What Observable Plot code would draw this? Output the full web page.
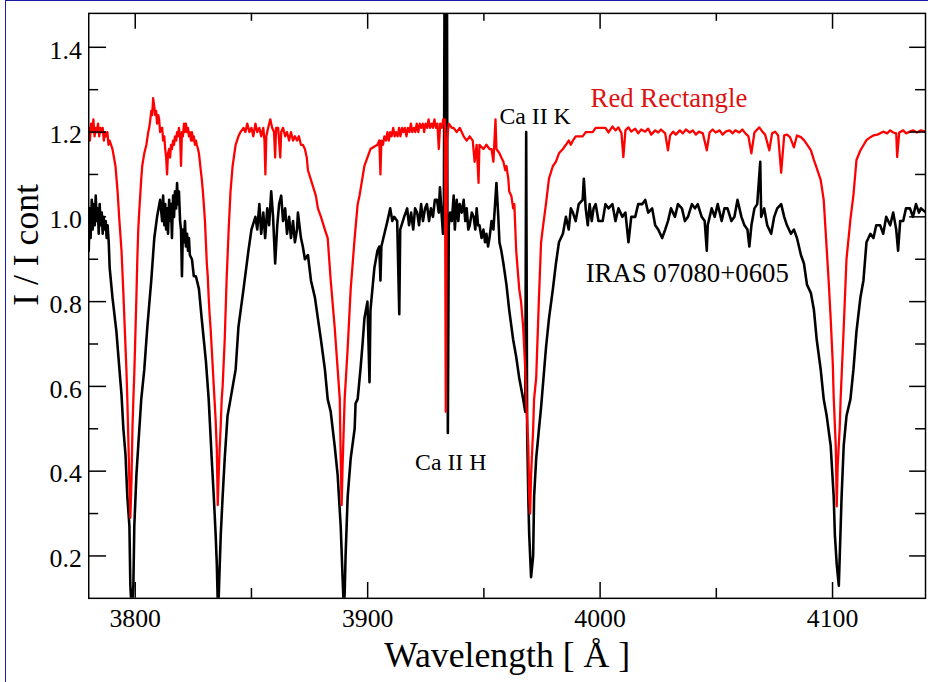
<!DOCTYPE html>
<html><head><meta charset="utf-8">
<script src="https://cdn.jsdelivr.net/npm/d3@7"></script>
<script src="https://cdn.jsdelivr.net/npm/@observablehq/plot@0.6"></script>
<style>
html,body{margin:0;padding:0;background:#fff;overflow:hidden;}
#wrap{position:relative;width:928px;height:682px;overflow:hidden;background:#fff;}
#border{position:absolute;left:5px;top:0;right:-10px;bottom:-10px;border-left:1.5px solid #1a1aa8;border-top:1.5px solid #1a1aa8;pointer-events:none;}
svg text{font-family:'Liberation Serif','Times New Roman',Times,serif;}
</style></head><body><div id="wrap"><div id="chart"></div><div id="border"></div></div>
<script>
// Wavelength [Å], I / I cont  — Red Rectangle (red curve)
const redRectangle = [
[3780.0,1.21],[3780.5,1.18],[3781.0,1.22],[3781.5,1.20],[3782.0,1.23],[3782.5,1.19],[3783.0,1.21],[3783.5,1.20],[3784.0,1.22],[3784.5,1.19],[3785.0,1.21],[3785.5,1.20],[3786.0,1.21],[3786.5,1.18],[3787.0,1.20],[3787.5,1.19],[3788.0,1.20],[3788.5,1.17],[3789.0,1.18],[3789.6,1.17],[3790.2,1.16],[3791.5,1.12],[3792.4,1.06],[3793.2,0.99],[3794.1,0.92],[3794.9,0.82],[3795.4,0.75],[3796.2,0.64],[3796.6,0.57],[3797.1,0.46],[3797.5,0.37],[3797.9,0.29],[3798.4,0.38],[3798.8,0.50],[3799.2,0.57],[3799.6,0.63],[3800.1,0.73],[3800.5,0.81],[3800.9,0.90],[3801.3,0.97],[3801.8,1.02],[3802.6,1.09],[3803.0,1.12],[3803.9,1.15],[3804.8,1.17],[3805.6,1.20],[3806.0,1.21],[3806.5,1.23],[3806.9,1.25],[3807.3,1.24],[3807.7,1.28],[3808.2,1.26],[3808.6,1.24],[3809.0,1.25],[3809.4,1.22],[3809.9,1.24],[3810.3,1.23],[3810.7,1.20],[3811.2,1.21],[3811.6,1.21],[3812.0,1.18],[3812.5,1.19],[3812.9,1.16],[3813.3,1.14],[3813.7,1.10],[3814.1,1.15],[3814.6,1.16],[3815.0,1.14],[3815.4,1.17],[3815.8,1.16],[3816.3,1.18],[3816.7,1.17],[3817.1,1.19],[3817.6,1.18],[3818.0,1.20],[3818.4,1.19],[3818.8,1.21],[3819.3,1.19],[3819.7,1.12],[3820.1,1.20],[3820.5,1.19],[3821.0,1.22],[3821.4,1.20],[3821.8,1.22],[3822.3,1.20],[3822.7,1.21],[3823.1,1.19],[3823.5,1.20],[3824.0,1.18],[3824.4,1.20],[3824.8,1.18],[3825.2,1.19],[3825.7,1.17],[3826.1,1.18],[3826.5,1.17],[3827.0,1.16],[3827.4,1.15],[3827.8,1.13],[3828.2,1.11],[3828.6,1.09],[3829.1,1.06],[3829.5,1.03],[3830.0,0.99],[3830.4,0.94],[3830.8,0.89],[3831.2,0.86],[3831.6,0.81],[3832.0,0.77],[3832.5,0.73],[3832.9,0.69],[3833.3,0.65],[3833.8,0.60],[3834.2,0.56],[3834.6,0.52],[3835.1,0.45],[3835.5,0.32],[3835.9,0.39],[3836.3,0.45],[3836.8,0.51],[3837.2,0.57],[3837.6,0.60],[3838.5,0.71],[3839.3,0.85],[3840.2,0.97],[3841.0,1.06],[3841.9,1.12],[3843.2,1.17],[3844.4,1.19],[3845.3,1.20],[3846.6,1.21],[3847.4,1.20],[3848.2,1.22],[3849.1,1.20],[3850.0,1.21],[3850.8,1.19],[3851.7,1.22],[3852.5,1.20],[3853.4,1.21],[3854.2,1.19],[3855.1,1.21],[3855.6,1.18],[3856.0,1.10],[3856.4,1.19],[3857.2,1.21],[3858.1,1.23],[3858.9,1.21],[3859.7,1.20],[3860.2,1.14],[3860.6,1.21],[3861.5,1.21],[3862.4,1.14],[3862.8,1.20],[3863.6,1.21],[3864.5,1.19],[3865.3,1.20],[3866.2,1.18],[3867.0,1.20],[3867.9,1.18],[3868.7,1.19],[3869.6,1.18],[3870.4,1.19],[3871.3,1.17],[3872.1,1.17],[3873.0,1.16],[3873.8,1.14],[3874.3,1.11],[3876.0,1.08],[3877.7,1.05],[3878.6,1.02],[3879.9,1.00],[3881.6,0.97],[3882.8,0.95],[3884.1,0.85],[3885.8,0.74],[3887.1,0.64],[3888.0,0.57],[3888.4,0.43],[3888.8,0.32],[3889.2,0.41],[3889.7,0.50],[3890.1,0.57],[3891.4,0.69],[3892.7,0.83],[3894.4,0.95],[3895.7,1.03],[3896.5,1.05],[3898.6,1.12],[3901.2,1.16],[3904.2,1.17],[3905.0,1.18],[3905.5,1.10],[3905.9,1.18],[3906.6,1.17],[3907.2,1.19],[3907.9,1.18],[3908.5,1.20],[3909.1,1.18],[3909.7,1.20],[3910.3,1.19],[3911.0,1.21],[3911.6,1.19],[3912.2,1.20],[3912.9,1.19],[3913.5,1.21],[3914.1,1.19],[3914.8,1.21],[3915.4,1.20],[3916.0,1.21],[3916.7,1.19],[3917.3,1.21],[3918.0,1.20],[3918.6,1.22],[3919.2,1.20],[3919.9,1.21],[3920.5,1.20],[3921.1,1.22],[3921.8,1.20],[3922.4,1.22],[3923.0,1.21],[3923.7,1.22],[3924.3,1.20],[3924.9,1.22],[3925.6,1.21],[3926.2,1.23],[3926.8,1.21],[3927.5,1.22],[3928.1,1.21],[3928.7,1.23],[3929.4,1.21],[3930.0,1.22],[3930.6,1.16],[3931.2,1.22],[3931.9,1.21],[3932.5,1.23],[3933.2,1.23],[3933.6,0.54],[3934.1,1.18],[3934.9,1.22],[3936.2,1.21],[3937.0,1.21],[3938.3,1.20],[3939.6,1.21],[3941.3,1.19],[3942.6,1.18],[3943.9,1.19],[3945.2,1.18],[3946.0,1.13],[3946.9,1.17],[3947.7,1.08],[3948.1,1.17],[3949.8,1.16],[3951.1,1.17],[3952.4,1.16],[3953.3,1.16],[3954.1,1.13],[3955.0,1.23],[3955.4,1.16],[3956.7,1.15],[3957.5,1.14],[3958.4,1.13],[3959.2,1.11],[3959.7,1.12],[3960.5,1.09],[3960.9,1.06],[3961.8,1.05],[3962.6,1.02],[3963.1,1.03],[3963.9,0.92],[3965.2,0.83],[3966.0,0.80],[3966.9,0.74],[3967.8,0.64],[3968.2,0.57],[3969.1,0.46],[3969.5,0.34],[3969.9,0.30],[3970.3,0.39],[3971.2,0.50],[3971.6,0.57],[3972.5,0.62],[3973.7,0.81],[3974.6,0.94],[3975.5,0.98],[3976.7,1.03],[3978.0,1.09],[3979.7,1.12],[3981.0,1.13],[3982.3,1.15],[3984.0,1.16],[3985.3,1.17],[3986.5,1.18],[3987.4,1.17],[3988.3,1.18],[3989.5,1.19],[3990.8,1.19],[3992.5,1.19],[3993.8,1.20],[3995.1,1.20],[3996.8,1.20],[3998.1,1.21],[4000.2,1.21],[4002.3,1.21],
[4003.6,1.199],[4005.3,1.213],[4006.6,1.204],[4007.9,1.211],[4009.2,1.197],[4010.0,1.141],[4010.9,1.204],[4012.2,1.211],[4013.4,1.201],[4015.1,1.208],[4016.4,1.197],[4017.7,1.206],[4019.4,1.201],[4020.7,1.208],[4022.0,1.194],[4023.7,1.204],[4025.0,1.199],[4026.2,1.206],[4028.0,1.197],[4029.2,1.157],[4030.1,1.192],[4031.4,1.201],[4032.6,1.194],[4034.3,1.204],[4035.6,1.197],[4036.9,1.206],[4038.6,1.199],[4039.9,1.204],[4041.2,1.194],[4042.5,1.201],[4044.2,1.197],[4045.9,1.157],[4047.1,1.199],[4048.4,1.206],[4049.7,1.199],[4051.4,1.204],[4052.7,1.194],[4054.0,1.201],[4055.7,1.204],[4057.0,1.197],[4058.2,1.204],[4059.9,1.199],[4061.2,1.206],[4062.5,1.197],[4063.8,1.190],[4065.1,1.150],[4066.4,1.199],[4067.6,1.206],[4068.5,1.211],[4069.8,1.201],[4071.0,1.194],[4072.8,1.157],[4074.0,1.197],[4075.3,1.201],[4076.6,1.192],[4077.9,1.104],[4079.2,1.192],[4080.4,1.194],[4081.7,1.188],[4083.4,1.164],[4084.7,1.192],[4086.4,1.188],[4087.7,1.181],[4089.0,1.171],[4090.7,1.157],[4092.0,1.134],[4093.2,1.115],[4094.9,1.087],[4096.2,1.040],[4097.5,0.924],[4098.4,0.842],[4099.2,0.760],[4100.1,0.655],[4100.5,0.574],[4101.4,0.457],[4101.8,0.317],[4102.2,0.410],[4103.1,0.504],[4103.5,0.574],[4104.8,0.737],[4106.0,0.900],[4107.7,0.994],[4109.0,1.052],[4110.3,1.134],[4112.0,1.157],[4113.3,1.169],[4114.6,1.181],[4116.3,1.188],[4117.6,1.192],[4119.3,1.194],[4120.5,1.197],[4121.8,1.201],[4123.5,1.197],[4124.8,1.204],[4126.1,1.199],[4127.4,1.197],[4127.8,1.141],[4128.7,1.199],[4130.4,1.204],[4131.6,1.197],[4133.3,1.201],[4134.6,1.204],[4136.3,1.199],[4138.0,1.204],[4140.2,1.201]
];
// Wavelength [Å], I / I cont  — IRAS 07080+0605 (black curve)
const iras07080 = [
[3780.0,0.92],[3780.4,1.02],[3780.8,0.95],[3781.3,1.04],[3781.7,0.97],[3782.1,1.03],[3782.6,0.98],[3783.0,1.05],[3783.4,0.99],[3783.9,1.02],[3784.3,0.96],[3784.7,1.03],[3785.1,0.98],[3785.6,1.01],[3786.0,0.96],[3786.4,1.00],[3786.8,0.97],[3787.3,0.99],[3787.7,0.95],[3788.1,0.98],[3788.6,0.94],[3789.0,0.88],[3790.2,0.81],[3791.9,0.73],[3793.2,0.64],[3794.1,0.58],[3794.9,0.50],[3795.8,0.44],[3796.2,0.39],[3796.6,0.34],[3797.5,0.27],[3797.9,0.13],[3798.4,0.08],[3798.8,0.09],[3799.2,0.13],[3799.6,0.27],[3800.5,0.39],[3801.3,0.46],[3802.6,0.57],[3803.9,0.64],[3805.2,0.74],[3806.9,0.85],[3808.2,0.95],[3809.4,1.00],[3810.7,1.04],[3811.6,0.99],[3812.0,1.05],[3812.5,0.98],[3812.9,1.03],[3813.3,0.97],[3813.7,1.02],[3814.1,0.96],[3814.6,1.04],[3815.0,0.99],[3815.4,1.03],[3815.8,0.95],[3816.3,1.05],[3816.7,1.00],[3817.1,1.06],[3817.6,1.02],[3818.0,1.08],[3818.4,1.03],[3818.8,1.06],[3819.3,0.99],[3819.7,0.97],[3820.1,0.86],[3820.5,0.97],[3821.0,0.94],[3821.4,0.99],[3821.8,0.93],[3822.3,0.96],[3822.7,0.92],[3823.1,0.95],[3823.5,0.91],[3824.4,0.90],[3825.2,0.86],[3826.1,0.86],[3827.4,0.83],[3828.6,0.76],[3830.4,0.66],[3831.6,0.57],[3832.9,0.43],[3833.8,0.34],[3834.6,0.25],[3835.1,0.18],[3835.5,0.09],[3835.9,0.10],[3836.3,0.17],[3836.8,0.25],[3837.6,0.34],[3838.5,0.43],[3839.7,0.53],[3841.0,0.57],[3843.2,0.64],[3844.4,0.74],[3846.6,0.83],[3848.7,0.92],[3850.0,0.97],[3851.7,1.00],[3852.5,0.97],[3853.4,1.03],[3854.2,0.96],[3855.1,1.01],[3855.9,0.95],[3856.8,1.02],[3857.6,0.98],[3858.5,1.06],[3859.3,1.00],[3860.2,0.89],[3861.1,0.98],[3861.9,1.03],[3862.8,1.05],[3863.6,0.99],[3864.5,1.02],[3865.3,0.96],[3866.2,1.00],[3867.0,0.95],[3867.9,0.99],[3868.7,0.94],[3869.6,0.97],[3870.0,1.01],[3871.3,0.95],[3872.1,0.93],[3873.0,0.90],[3874.3,0.91],[3875.6,0.85],[3877.3,0.81],[3878.6,0.76],[3879.9,0.71],[3881.6,0.64],[3882.8,0.57],[3884.1,0.54],[3885.8,0.46],[3887.1,0.39],[3888.4,0.27],[3889.2,0.15],[3889.7,0.08],[3890.1,0.11],[3890.5,0.20],[3891.4,0.34],[3892.7,0.43],[3894.4,0.50],[3894.8,0.56],[3895.7,0.57],[3896.9,0.64],[3897.8,0.70],[3898.6,0.76],[3899.9,0.80],[3900.8,0.61],[3901.2,0.78],[3902.9,0.88],[3904.2,0.92],[3905.0,0.93],[3905.5,0.85],[3905.9,0.93],[3907.2,0.96],[3908.5,0.99],[3909.7,1.02],[3910.6,0.99],[3911.4,1.00],[3912.7,0.99],[3913.6,0.77],[3914.0,0.97],[3915.7,1.00],[3917.0,1.02],[3917.8,0.98],[3918.7,1.01],[3919.6,0.97],[3920.4,1.02],[3921.3,1.01],[3922.1,0.98],[3923.0,1.03],[3923.8,0.99],[3924.7,1.02],[3925.5,1.03],[3926.4,0.99],[3927.2,1.02],[3928.1,1.00],[3928.9,1.04],[3929.8,1.04],[3930.6,1.01],[3931.1,1.07],[3931.9,1.00],[3932.4,0.96],[3932.8,1.03],[3933.1,1.60],[3933.5,0.98],[3933.8,1.60],[3934.1,1.60],[3934.5,0.49],[3934.9,0.98],[3935.5,1.01],[3936.2,0.99],[3937.0,1.05],[3937.5,0.97],[3938.3,1.04],[3939.0,0.99],[3939.6,1.03],[3940.5,1.01],[3941.3,1.04],[3942.0,0.99],[3942.6,1.02],[3943.3,0.97],[3943.9,0.98],[3944.8,1.01],[3945.6,1.00],[3946.3,0.97],[3946.9,1.02],[3947.5,0.98],[3948.1,0.98],[3949.0,0.95],[3949.8,0.97],[3950.5,0.94],[3951.1,0.96],[3951.8,0.93],[3952.4,0.95],[3953.3,0.99],[3954.1,0.97],[3955.4,1.08],[3956.2,1.00],[3956.7,0.94],[3957.5,0.92],[3958.4,0.89],[3959.7,0.84],[3960.9,0.78],[3962.6,0.71],[3963.9,0.67],[3965.2,0.62],[3966.9,0.57],[3967.8,0.54],[3968.2,1.20],[3968.6,0.50],[3969.1,0.34],[3969.5,0.25],[3970.3,0.15],[3971.2,0.20],[3971.6,0.34],[3972.5,0.43],[3973.7,0.50],[3974.6,0.55],[3976.7,0.69],[3978.0,0.76],[3979.7,0.83],[3981.0,0.89],[3982.3,0.94],[3984.0,0.96],[3985.3,1.00],[3986.5,0.97],[3987.4,1.02],[3988.3,1.01],[3989.5,0.99],[3990.8,1.03],[3992.5,1.04],[3993.0,1.09],[3993.8,1.02],[3994.7,0.98],[3995.5,1.03],[3996.4,0.99],[3997.2,1.02],[3998.1,1.03],[3999.3,0.99],[4001.1,0.99],[4002.3,1.03],[4003.6,1.02],[4005.3,1.03],[4006.6,0.99],[4007.9,1.02],[4009.6,1.00],[4010.9,1.01],[4012.2,0.94],[4013.4,1.00],[4015.1,1.00],[4016.4,1.03],[4018.1,1.03],[4019.4,1.04],[4020.7,1.01],[4022.4,1.02],[4023.7,0.98],[4025.0,0.97],[4026.7,0.95],[4028.0,0.97],[4029.2,0.99],[4030.5,1.02],[4032.2,1.00],[4033.5,1.03],[4035.2,1.02],[4036.5,0.99],[4037.8,1.00],[4039.5,1.03],[4040.8,1.02],[4042.0,1.03],[4043.7,1.00],[4045.0,0.99],[4045.9,0.92],[4046.3,0.98],[4048.0,1.02],[4049.3,1.00],[4050.6,1.03],[4052.3,0.99],[4053.5,1.02],[4054.8,1.02],[4056.5,0.99],[4057.8,1.00],[4059.1,1.04],[4060.8,1.00],[4062.1,0.98],[4063.4,0.97],[4064.2,0.93],[4065.1,0.98],[4066.4,1.02],[4067.6,1.03],[4068.9,1.13],[4069.3,1.00],[4070.6,1.02],[4071.9,0.98],[4073.6,0.96],[4074.9,1.00],[4076.2,1.02],[4077.9,1.03],[4079.2,1.00],[4080.4,0.98],[4082.1,0.96],[4083.4,0.97],[4084.7,0.95],[4086.4,0.91],[4087.7,0.89],[4089.0,0.84],[4090.7,0.82],[4092.0,0.78],[4093.2,0.71],[4094.9,0.64],[4096.2,0.57],[4097.5,0.53],[4099.2,0.46],[4100.5,0.34],[4101.0,0.25],[4101.8,0.18],[4102.7,0.13],[4103.5,0.27],[4103.9,0.34],[4104.8,0.46],[4106.0,0.53],[4107.7,0.57],[4109.0,0.64],[4110.3,0.73],[4112.0,0.81],[4113.3,0.85],[4114.6,0.94],[4116.3,0.96],[4117.6,0.95],[4118.8,0.98],[4120.5,0.98],[4121.8,0.96],[4123.1,1.00],[4124.8,0.98],[4126.1,1.01],[4127.4,0.97],[4128.2,0.92],[4129.1,0.99],[4130.4,0.99],[4131.6,1.02],[4133.3,1.02],[4134.6,1.00],[4135.9,1.03],[4137.2,1.01],[4138.0,1.02],[4140.2,1.01]
];

const xMajorTicks = [3800, 3900, 4000, 4100];
const xMinorTicks = [3850, 3950, 4050];
const yMajorTicks = [0.2, 0.4, 0.6, 0.8, 1.0, 1.2, 1.4];
const yMinorTicks = [0.3, 0.5, 0.7, 0.9, 1.1, 1.3];
const xTitle = "Wavelength [ Å ]";
const yTitle = "I / I cont";
const labels = [
  {text: "Red Rectangle", w: 3995.9, v: 1.258, color: "#dd1111", size: 27},
  {text: "IRAS 07080+0605", w: 3993.8, v: 0.847, color: "#000000", size: 27},
  {text: "Ca II K", w: 3956.7, v: 1.220, color: "#000000", size: 24},
  {text: "Ca II H", w: 3920.4, v: 0.403, color: "#000000", size: 24}
];

const W = 936, H = 682;
const mL = 89, mR = 3, mT = 13, mB = 79;
const frameW = W - mL - mR, frameH = H - mT - mB;
const font = "Liberation Serif";
const tickStyle = {stroke: "black", strokeWidth: 1.5};

const chart = Plot.plot({
  width: W, height: H,
  marginLeft: mL, marginRight: mR, marginTop: mT, marginBottom: mB,
  style: {fontFamily: font, background: "white", color: "black", overflow: "visible"},
  x: {domain: [3780, 4140]},
  y: {domain: [0.1, 1.48]},
  marks: [
    Plot.line(iras07080, {x: d => d[0], y: d => d[1], stroke: "#000000", strokeWidth: 2.6, clip: true}),
    Plot.line(redRectangle, {x: d => d[0], y: d => d[1], stroke: "#ff0000", strokeWidth: 2.3, clip: true}),
    Plot.frame({stroke: "black", strokeWidth: 1.5}),
    Plot.tickX(xMajorTicks, {x: d => d, insetTop: frameH - 16, ...tickStyle}),
    Plot.tickX(xMajorTicks, {x: d => d, insetBottom: frameH - 16, ...tickStyle}),
    Plot.tickX(xMinorTicks, {x: d => d, insetTop: frameH - 10, ...tickStyle}),
    Plot.tickX(xMinorTicks, {x: d => d, insetBottom: frameH - 8, ...tickStyle}),
    Plot.tickY(yMajorTicks, {y: d => d, insetRight: frameW - 18, ...tickStyle}),
    Plot.tickY(yMajorTicks, {y: d => d, insetLeft: frameW - 16, ...tickStyle}),
    Plot.tickY(yMinorTicks, {y: d => d, insetRight: frameW - 10, ...tickStyle}),
    Plot.tickY(yMinorTicks, {y: d => d, insetLeft: frameW - 10, ...tickStyle}),
    Plot.axisX(xMajorTicks, {tickSize: 0, tickPadding: 10, fontSize: 26, fontFamily: font, label: null, tickFormat: d => String(d)}),
    Plot.axisY(yMajorTicks, {tickSize: 0, tickPadding: 7, fontSize: 26, fontFamily: font, label: null, tickFormat: d3.format(".1f"), dy: 3}),
    Plot.text([xTitle], {text: d => d, frameAnchor: "bottom", dy: 69, lineAnchor: "bottom", fontSize: 36, fontFamily: font, fill: "black"}),
    Plot.text([yTitle], {text: d => d, frameAnchor: "left", dx: -51, rotate: -90, lineAnchor: "bottom", fontSize: 36, fontFamily: font, fill: "black"}),
    ...labels.map(l => Plot.text([l], {x: "w", y: "v", text: "text", fill: l.color, fontSize: l.size, fontFamily: font, textAnchor: "start", lineAnchor: "bottom"}))
  ]
});
document.getElementById("chart").appendChild(chart);
</script></body></html>
